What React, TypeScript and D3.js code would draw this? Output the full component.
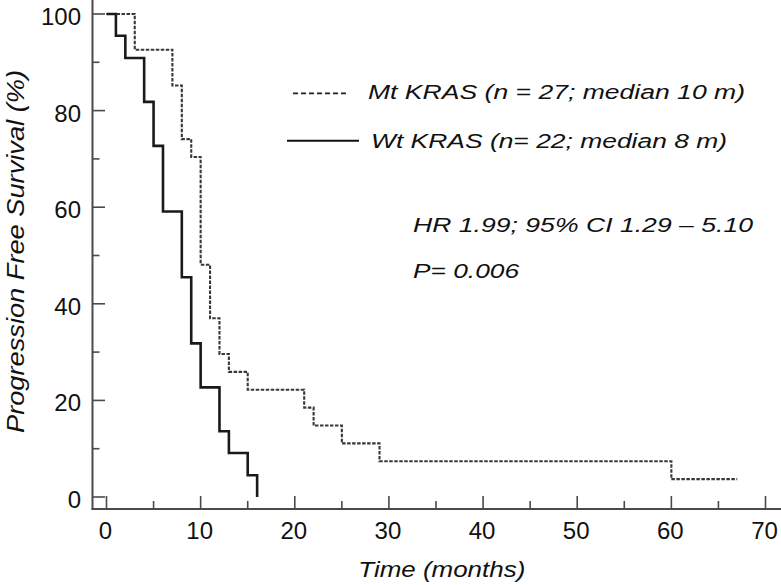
import React from "react";
import * as d3 from "d3";

const mtTimes = [0, 3, 7, 8, 9, 10, 11, 12, 13, 15, 21, 22, 25, 29, 60, 67];
const mtSurvival = [100, 92.6, 85.2, 74.1, 70.4, 48.1, 37.0, 29.6, 25.9, 22.2, 18.5, 14.8, 11.1, 7.4, 3.7, 3.7];
const wtTimes = [0, 1, 2, 4, 5, 6, 8, 9, 10, 12, 13, 15, 16];
const wtSurvival = [100, 95.5, 90.9, 81.8, 72.7, 59.1, 45.5, 31.8, 22.7, 13.6, 9.1, 4.5, 0];

const xMajorTicks = [0, 10, 20, 30, 40, 50, 60, 70];
const xMinorTicks = [5, 15, 25, 35, 45, 55, 65];
const yMajorTicks = [0, 20, 40, 60, 80, 100];
const yMinorTicks = [10, 30, 50, 70, 90];

const legendMt = "Mt KRAS (n = 27; median 10 m)";
const legendWt = "Wt KRAS (n= 22; median 8 m)";
const statHR = "HR 1.99; 95% CI 1.29 \u2013 5.10";
const statP = "P= 0.006";
const xTitle = "Time (months)";
const yTitle = "Progression Free Survival (%)";

export default function App() {
  const W = 781, H = 585;
  const x = d3.scaleLinear().domain([0, 70]).range([106.5, 765.5]);
  const y = d3.scaleLinear().domain([0, 100]).range([497, 14]);
  const axisX = 92.5;
  const axisY = 509;
  const font = "'Liberation Sans', Arial, Helvetica, sans-serif";

  const line = d3
    .line<[number, number]>()
    .x((d) => x(d[0]))
    .y((d) => y(d[1]))
    .curve(d3.curveStepAfter);

  const mtPts: [number, number][] = mtTimes.map((t, i) => [t, mtSurvival[i]]);
  const wtPts: [number, number][] = wtTimes.map((t, i) => [t, wtSurvival[i]]);

  const axisColor = "#4a4a4a";

  return (
    <svg
      width={W}
      height={H}
      style={{ position: "absolute", left: 0, top: 0, background: "#fff" }}
      fontFamily={font}
    >
      <rect x={0} y={0} width={W} height={H} fill="#fff" />
      {/* axes */}
      <line x1={axisX} y1={0} x2={axisX} y2={axisY + 1} stroke={axisColor} strokeWidth={2} />
      <line x1={axisX - 1} y1={axisY} x2={W} y2={axisY} stroke={axisColor} strokeWidth={2} />
      {yMajorTicks.map((v) => (
        <g key={"ym" + v}>
          <line x1={axisX} x2={axisX + 12.5} y1={y(v)} y2={y(v)} stroke={axisColor} strokeWidth={1.6} />
          <text x={81} y={y(v) + 11} textAnchor="end" fontSize={24} fill="#111">
            {v}
          </text>
        </g>
      ))}
      {yMinorTicks.map((v) => (
        <line key={"yn" + v} x1={axisX} x2={axisX + 7} y1={y(v)} y2={y(v)} stroke={axisColor} strokeWidth={1.6} />
      ))}
      {xMajorTicks.map((v) => (
        <g key={"xm" + v}>
          <line x1={x(v)} x2={x(v)} y1={axisY} y2={axisY - 13} stroke={axisColor} strokeWidth={1.6} />
          <text x={x(v) - 1} y={538.5} textAnchor="middle" fontSize={24} fill="#111">
            {v}
          </text>
        </g>
      ))}
      {xMinorTicks.map((v) => (
        <line key={"xn" + v} x1={x(v)} x2={x(v)} y1={axisY} y2={axisY - 8} stroke={axisColor} strokeWidth={1.6} />
      ))}

      {/* curves */}
      <path d={line(mtPts) || ""} fill="none" stroke="#383838" strokeWidth={2.1} strokeDasharray="3.5,1.5" />
      <path d={line(wtPts) || ""} fill="none" stroke="#1a1a1a" strokeWidth={2.6} />

      {/* legend */}
      <line x1={293} x2={348} y1={93.3} y2={93.3} stroke="#222" strokeWidth={1.7} strokeDasharray="5,3" />
      <text x={368} y={99.3} fontSize={20} fontStyle="italic" fill="#111" textLength={377} lengthAdjust="spacingAndGlyphs">
        {legendMt}
      </text>
      <line x1={287} x2={359} y1={140.7} y2={140.7} stroke="#111" strokeWidth={2} />
      <text x={371} y={148.3} fontSize={20} fontStyle="italic" fill="#111" textLength={356} lengthAdjust="spacingAndGlyphs">
        {legendWt}
      </text>
      <text x={413} y={231.7} fontSize={20.5} fontStyle="italic" fill="#111" textLength={340} lengthAdjust="spacingAndGlyphs">
        {statHR}
      </text>
      <text x={413} y={278.3} fontSize={20.5} fontStyle="italic" fill="#111" textLength={106} lengthAdjust="spacingAndGlyphs">
        {statP}
      </text>

      {/* axis titles */}
      <text x={358.3} y={577} fontSize={22.5} fontStyle="italic" fill="#111" textLength={167} lengthAdjust="spacingAndGlyphs">
        {xTitle}
      </text>
      <text
        transform={`translate(24,433) rotate(-90)`}
        x={0}
        y={0}
        fontSize={23}
        fontStyle="italic"
        fill="#111"
        textLength={363}
        lengthAdjust="spacingAndGlyphs"
      >
        {yTitle}
      </text>
    </svg>
  );
}
